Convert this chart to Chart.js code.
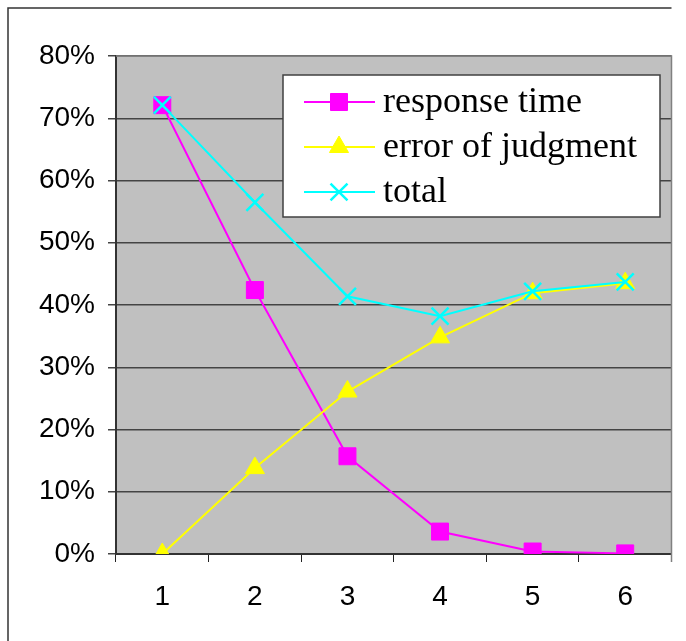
<!DOCTYPE html>
<html>
<head>
<meta charset="utf-8">
<script src="https://cdn.jsdelivr.net/npm/chart.js@4"></script>
<style>
  html, body { margin: 0; padding: 0; background: #fff; }
  #wrap { width: 686px; height: 641px; }
</style>
</head>
<body>
<div id="wrap"><canvas id="errorChart" width="686" height="641"></canvas></div>
<script>
// data
const categories = ['1', '2', '3', '4', '5', '6'];
const responseTime = [0.721, 0.424, 0.157, 0.036, 0.004, 0.001];
const errorOfJudgment = [0.0, 0.138, 0.261, 0.348, 0.419, 0.435];
const total = [0.721, 0.565, 0.414, 0.382, 0.422, 0.437];
const seriesNames = ['response time', 'error of judgment', 'total'];
const yTicks = [0, 0.1, 0.2, 0.3, 0.4, 0.5, 0.6, 0.7, 0.8];

// grey plot area and the frame round the picture
const backdrop = {
    id: 'backdrop',
    beforeDraw(chart) {
        const { ctx, chartArea: a } = chart;
        ctx.save();
        ctx.fillStyle = '#fff';
        ctx.fillRect(0, 0, chart.width, chart.height);
        ctx.fillStyle = '#C0C0C0';
        ctx.fillRect(a.left, a.top, a.right - a.left, a.bottom - a.top);
        ctx.strokeStyle = '#333';
        ctx.lineWidth = 1.5;
        ctx.beginPath();
        ctx.moveTo(8, chart.height);
        ctx.lineTo(8, 8);
        ctx.lineTo(a.right, 8);
        ctx.stroke();
        ctx.restore();
    },
    beforeDatasetsDraw(chart) {
        const { ctx, chartArea: a } = chart;
        ctx.save();
        ctx.strokeStyle = '#808080';
        ctx.lineWidth = 1.5;
        ctx.beginPath();
        ctx.moveTo(a.left, a.top);
        ctx.lineTo(a.right, a.top);
        ctx.lineTo(a.right, a.bottom + 8);
        ctx.stroke();
        ctx.restore();
    }
};

// legend box inside the plot, top right
const boxLegend = {
    id: 'boxLegend',
    afterDraw(chart) {
        const { ctx } = chart;
        const x = 283, y = 75, w = 377, h = 142;
        ctx.save();
        ctx.fillStyle = '#fff';
        ctx.fillRect(x, y, w, h);
        ctx.strokeStyle = '#404040';
        ctx.lineWidth = 1.5;
        ctx.strokeRect(x, y, w, h);
        chart.data.datasets.forEach((ds, i) => {
            const cy = 102 + i * 45;
            ctx.strokeStyle = ds.borderColor;
            ctx.fillStyle = ds.backgroundColor;
            ctx.lineWidth = 2;
            ctx.beginPath();
            ctx.moveTo(304, cy);
            ctx.lineTo(375, cy);
            ctx.stroke();
            ctx.lineWidth = ds.pointBorderWidth;
            Chart.helpers.drawPoint(ctx, {
                pointStyle: ds.pointStyle,
                radius: ds.pointRadius,
                borderWidth: ds.pointBorderWidth
            }, 339, cy);
            ctx.fillStyle = '#000';
            ctx.font = '36px "Liberation Serif", "Times New Roman", serif';
            ctx.textBaseline = 'middle';
            ctx.fillText(ds.label, 383, cy + 1);
        });
        ctx.restore();
    }
};

const ctx = document.getElementById('errorChart').getContext('2d');
const errorChart = new Chart(ctx, {
    type: 'line',
    data: {
        labels: categories,
        datasets: [{
            label: seriesNames[0],
            data: responseTime,
            borderColor: '#FF00FF',
            backgroundColor: '#FF00FF',
            borderWidth: 2,
            pointStyle: 'rect',
            pointRadius: 12,
            pointBorderWidth: 1,
            order: 3
        },
        {
            label: seriesNames[1],
            data: errorOfJudgment,
            borderColor: '#FFFF00',
            backgroundColor: '#FFFF00',
            borderWidth: 2,
            pointStyle: 'triangle',
            pointRadius: 11,
            pointBorderWidth: 1,
            order: 2
        },
        {
            label: seriesNames[2],
            data: total,
            borderColor: '#00FFFF',
            backgroundColor: '#00FFFF',
            borderWidth: 2,
            pointStyle: 'crossRot',
            pointRadius: 12,
            pointBorderWidth: 2.5,
            order: 1
        }]
    },
    options: {
        responsive: false,
        animation: false,
        devicePixelRatio: 1,
        layout: { padding: { top: 56, right: 9, left: 0, bottom: 0 } },
        plugins: { legend: { display: false }, tooltip: { enabled: false } },
        elements: { line: { tension: 0 } },
        scales: {
            x: {
                type: 'category',
                offset: true,
                afterFit(scale) { scale.height = 87; },
                grid: {
                    offset: true,
                    drawOnChartArea: false,
                    drawTicks: true,
                    tickLength: 8,
                    color: '#222',
                    lineWidth: 1
                },
                border: { display: true, color: '#333', width: 2 },
                ticks: {
                    color: '#000',
                    padding: 18,
                    maxRotation: 0,
                    font: { family: '"Liberation Sans", Arial, sans-serif', size: 28 }
                }
            },
            y: {
                min: 0,
                max: 0.8,
                afterFit(scale) { scale.width = 116; },
                afterBuildTicks(scale) { scale.ticks = yTicks.map(v => ({ value: v })); },
                grid: {
                    color: '#444',
                    lineWidth: 1.5,
                    drawTicks: true,
                    tickLength: 8
                },
                border: { display: true, color: '#333', width: 2 },
                ticks: {
                    color: '#000',
                    padding: 13,
                    font: { family: '"Liberation Sans", Arial, sans-serif', size: 28 },
                    callback: v => Math.round(v * 100) + '%'
                }
            }
        }
    },
    plugins: [backdrop, boxLegend]
});
</script>
</body>
</html>
